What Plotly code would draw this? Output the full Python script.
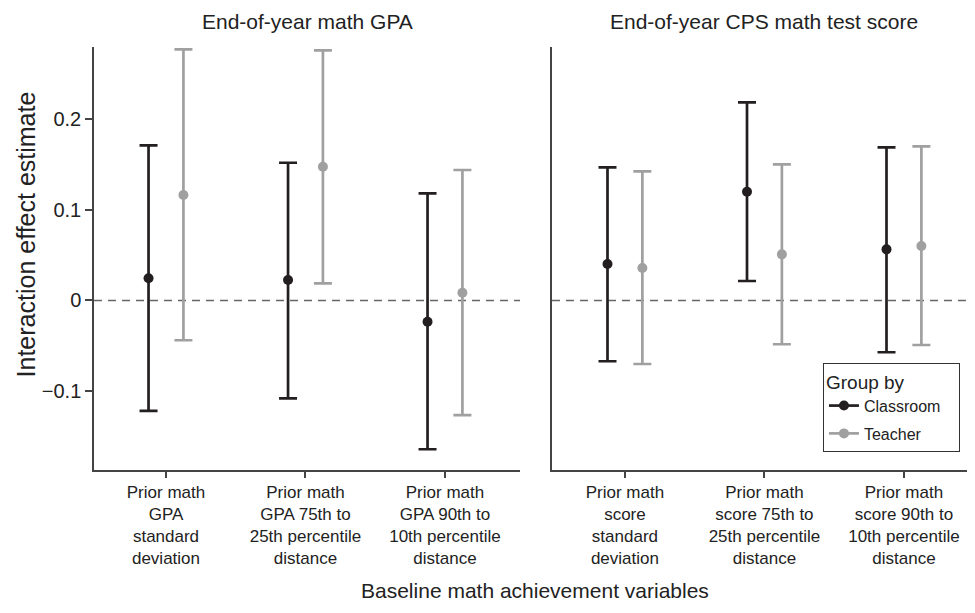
import plotly.graph_objects as go

# ---- data ----
left_categories = ["Prior math<br>GPA<br>standard<br>deviation",
                   "Prior math<br>GPA 75th to<br>25th percentile<br>distance",
                   "Prior math<br>GPA 90th to<br>10th percentile<br>distance"]
right_categories = ["Prior math<br>score<br>standard<br>deviation",
                    "Prior math<br>score 75th to<br>25th percentile<br>distance",
                    "Prior math<br>score 90th to<br>10th percentile<br>distance"]

gpa_class_est = [0.0244, 0.0225, -0.0233]
gpa_class_lo = [-0.1214, -0.1075, -0.1635]
gpa_class_hi = [0.1705, 0.1514, 0.1178]
gpa_teach_est = [0.116, 0.147, 0.0086]
gpa_teach_lo = [-0.0437, 0.0189, -0.126]
gpa_teach_hi = [0.276, 0.275, 0.1434]

cps_class_est = [0.0401, 0.1196, 0.0562]
cps_class_lo = [-0.0668, 0.0214, -0.0569]
cps_class_hi = [0.1464, 0.2178, 0.1683]
cps_teach_est = [0.0357, 0.0507, 0.0599]
cps_teach_lo = [-0.0698, -0.0481, -0.0489]
cps_teach_hi = [0.142, 0.1497, 0.1694]

y_ticks = [-0.1, 0, 0.1, 0.2]
panel_titles = ["End-of-year math GPA", "End-of-year CPS math test score"]
series_names = ["Classroom", "Teacher"]

# ---- style ----
DARK = "#231f20"
GRAY = "#a0a0a0"
AX = "#444444"
FONT = "Liberation Sans, Arial, sans-serif"
TXT = "#222222"

L_DOM = [0, 0.488]
R_DOM = [0.5246, 1]

fig = go.Figure()

def add_series(cats, est, lo, hi, color, group, xa, ya):
    fig.add_trace(go.Scatter(
        x=cats, y=est, mode="markers",
        marker=dict(color=color, size=10),
        error_y=dict(type="data", symmetric=False,
                     array=[h - e for h, e in zip(hi, est)],
                     arrayminus=[e - l for e, l in zip(est, lo)],
                     color=color, thickness=2.7, width=9),
        offsetgroup=group, showlegend=False, xaxis=xa, yaxis=ya,
        hoverinfo="x+y"))

add_series(left_categories, gpa_class_est, gpa_class_lo, gpa_class_hi, DARK, "c", "x", "y")
add_series(left_categories, gpa_teach_est, gpa_teach_lo, gpa_teach_hi, GRAY, "t", "x", "y")
add_series(right_categories, cps_class_est, cps_class_lo, cps_class_hi, DARK, "c", "x2", "y2")
add_series(right_categories, cps_teach_est, cps_teach_lo, cps_teach_hi, GRAY, "t", "x2", "y2")

# legend entries
for name, color, grp in zip(series_names, [DARK, GRAY], ["c", "t"]):
    fig.add_trace(go.Scatter(x=[None], y=[None], mode="lines+markers",
                             name=name + "\u00a0\u00a0\u00a0", legendgroup=grp,
                             line=dict(color=color, width=2.7),
                             marker=dict(color=color, size=10),
                             offsetgroup=grp, xaxis="x", yaxis="y"))

xcommon = dict(type="category", showline=True, linecolor=AX, linewidth=1.5,
               ticks="outside", ticklen=6, tickcolor=AX, tickwidth=1.5,
               showgrid=False, zeroline=False, automargin=False,
               tickfont=dict(family=FONT, size=17, color=TXT))
ycommon = dict(range=[-0.1863, 0.2786], showline=True, linecolor=AX, linewidth=1.5,
               showgrid=False, zeroline=False, automargin=False)

fig.update_layout(
    width=959, height=597,
    margin=dict(l=86, r=0, t=39, b=135, autoexpand=False),
    paper_bgcolor="white", plot_bgcolor="white",
    scattermode="group", scattergap=0.5,
    xaxis=dict(domain=L_DOM, range=[-0.516, 2.538], anchor="y", **xcommon),
    xaxis2=dict(domain=R_DOM, range=[-0.523, 2.452], anchor="y2", **xcommon),
    yaxis=dict(anchor="x", ticks="outside", ticklen=7, tickcolor=AX, tickwidth=1.5,
               tickvals=y_ticks, tickfont=dict(family=FONT, size=20, color=TXT), **ycommon),
    yaxis2=dict(anchor="x2", showticklabels=False, ticks="", **ycommon),
    legend=dict(x=0.835, y=0.253, xanchor="left", yanchor="top",
                bordercolor="#333333", borderwidth=1, bgcolor="white",
                title=dict(text="Group by", font=dict(family=FONT, size=19, color=TXT)),
                font=dict(family=FONT, size=16, color=TXT), itemwidth=30,
                tracegroupgap=4),
    font=dict(family=FONT, color=TXT),
    showlegend=True,
)

# zero reference lines
for xr, yr in [("x", "y"), ("x2", "y2")]:
    fig.add_shape(type="line", xref=f"{xr} domain", yref=yr, x0=0, x1=1, y0=0, y1=0,
                  line=dict(color="#666666", width=1.5, dash="8px,6px"), layer="below")

# panel titles
for title, dom in zip(panel_titles, [L_DOM, [0.5246, 1.0092]]):
    fig.add_annotation(text=title, xref="paper", yref="paper", x=(dom[0] + dom[1]) / 2,
                       y=1, xanchor="center", yanchor="bottom", yshift=12, showarrow=False,
                       font=dict(family=FONT, size=21, color=TXT))

fig.add_annotation(text="Interaction effect estimate", xref="paper", yref="paper",
                   x=-0.0785, y=0.558, textangle=-90, showarrow=False,
                   xanchor="center", yanchor="middle",
                   font=dict(family=FONT, size=25, color=TXT))
fig.add_annotation(text="Baseline math achievement variables", xref="paper", yref="paper",
                   x=0.5046, y=-0.2837, showarrow=False, xanchor="center", yanchor="middle",
                   font=dict(family=FONT, size=21, color=TXT))

fig.write_html("out.html")
